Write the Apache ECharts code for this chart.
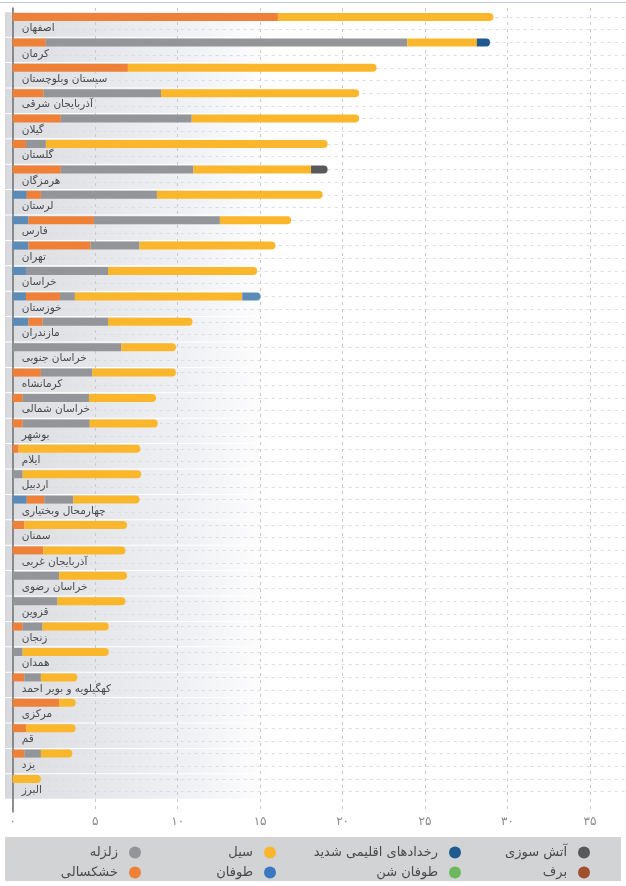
<!DOCTYPE html>
<html>
<head>
<meta charset="utf-8">
<style>
  html, body { margin: 0; padding: 0; background: #fff; }
  #main { width: 626px; height: 886px; }
</style>
<script src="https://cdn.jsdelivr.net/npm/echarts@6/dist/echarts.min.js"></script>
</head>
<body>
<div id="main"></div>
<script>
const categories = ['اصفهان', 'کرمان', 'سیستان وبلوچستان', 'آذربایجان شرقی', 'گیلان', 'گلستان', 'هرمزگان', 'لرستان', 'فارس', 'تهران', 'خراسان', 'خوزستان', 'مازندران', 'خراسان جنوبی', 'کرمانشاه', 'خراسان شمالی', 'بوشهر', 'ایلام', 'اردبیل', 'چهارمحال وبختیاری', 'سمنان', 'آذربایجان غربی', 'خراسان رضوی', 'قزوین', 'زنجان', 'همدان', 'کهگیلویه و بویر احمد', 'مرکزی', 'قم', 'یزد', 'البرز'];
const storm =   [0, 0, 0, 0, 0, 0, 0, 0.85, 0.95, 0.95, 0.8, 0.8, 0.95, 0, 0, 0, 0, 0, 0, 0.85, 0, 0, 0, 0, 0, 0, 0, 0, 0, 0, 0];
const drought = [16, 2, 6.95, 1.85, 2.9, 0.8, 2.9, 0.85, 3.95, 3.75, 0, 2.05, 0.85, 0, 1.7, 0.6, 0.6, 0.35, 0, 1.05, 0.7, 1.85, 0, 0, 0.6, 0, 0.7, 2.8, 0.8, 0.7, 0];
const quake =   [0, 21.8, 0, 7.1, 7.9, 1.2, 8, 7, 7.6, 2.95, 4.95, 0.9, 3.95, 6.55, 3.1, 4, 4.05, 0, 0.6, 1.75, 0, 0, 2.8, 2.7, 1.2, 0.6, 1, 0, 0, 1, 0];
const flood =   [13, 4.2, 15, 11.95, 10.1, 17, 7.1, 10, 4.3, 8.2, 9, 10.1, 5.1, 3.3, 5.05, 4.05, 4.1, 7.35, 7.15, 4, 6.2, 4.95, 4.1, 4.1, 4, 5.2, 2.2, 1, 3, 1.9, 1.7];
const fire =    [0, 0, 0, 0, 0, 0, 1, 0, 0, 0, 0, 0, 0, 0, 0, 0, 0, 0, 0, 0, 0, 0, 0, 0, 0, 0, 0, 0, 0, 0, 0];
const extreme = [0, 0.8, 0, 0, 0, 0, 0, 0, 0, 0, 0, 0, 0, 0, 0, 0, 0, 0, 0, 0, 0, 0, 0, 0, 0, 0, 0, 0, 0, 0, 0];
const stormEnd = [0, 0, 0, 0, 0, 0, 0, 0, 0, 0, 0, 1.1, 0, 0, 0, 0, 0, 0, 0, 0, 0, 0, 0, 0, 0, 0, 0, 0, 0, 0, 0];
const snow = categories.map(() => 0);
const sandstorm = categories.map(() => 0);
const tickLabels = ['۰', '۵', '۱۰', '۱۵', '۲۰', '۲۵', '۳۰', '۳۵'];

const font = '"DejaVu Sans", "Noto Sans", sans-serif';
const layers = [
  { name: 'طوفان', values: storm, color: '#5b8bb6' },
  { name: 'خشکسالی', values: drought, color: '#ee8038' },
  { name: 'زلزله', values: quake, color: '#939598' },
  { name: 'سیل', values: flood, color: '#fbb72c' },
  { name: 'آتش سوزی', values: fire, color: '#58595b' },
  { name: 'رخدادهای اقلیمی شدید', values: extreme, color: '#1f5a91' },
  { name: 'طوفان', values: stormEnd, color: '#5b8bb6' },
  { name: 'برف', values: snow, color: '#a0502a' },
  { name: 'طوفان شن', values: sandstorm, color: '#6cb85c' },
];

// last non-empty segment of a row gets the round end
function stackData(layerIndex) {
  return layers[layerIndex].values.map((v, row) => {
    const isLast = v > 0 && layers.slice(layerIndex + 1).every((l) => !l.values[row]);
    return isLast ? { value: v, itemStyle: { borderRadius: [0, 4, 4, 0] } } : v;
  });
}

const barSeries = layers.map((l, i) => ({
  name: l.name,
  type: 'bar',
  stack: 'total',
  xAxisIndex: 2,
  yAxisIndex: 2,
  barWidth: 8,
  itemStyle: { color: l.color },
  data: stackData(i),
  z: 2,
}));

function legendColumn(right, names) {
  return {
    orient: 'vertical',
    align: 'right',
    right: right,
    top: 846,
    padding: 0,
    itemWidth: 12,
    itemHeight: 12,
    itemGap: 7,
    icon: 'circle',
    selectedMode: false,
    textStyle: { fontFamily: font, fontSize: 13, color: '#4a4a4a', padding: [0, 6, 0, 0] },
    data: names,
  };
}

const chart = echarts.init(document.getElementById('main'), null, { renderer: 'canvas' });
chart.setOption({
  animation: false,
  backgroundColor: '#fff',
  grid: [
    { left: 5, top: 11.8, width: 270, height: 787.4 },
    { left: 12.7, top: 8, right: 0, height: 804 },
    { left: 12.7, top: 4.3, right: 0, height: 787.4 },
  ],
  xAxis: [
    { gridIndex: 0, type: 'value', min: 0, max: 1, show: false },
    {
      gridIndex: 1,
      type: 'value',
      min: 0,
      max: 37,
      interval: 5,
      axisLine: { show: false },
      axisTick: { show: false },
      axisLabel: {
        margin: 4,
        fontFamily: font,
        fontSize: 12,
        color: '#8a8a8a',
        formatter: (v) => tickLabels[v / 5] || '',
      },
      splitLine: { showMaxLine: false, lineStyle: { type: [3, 4], color: '#c9c9c9', width: 1 } },
    },
    { gridIndex: 2, type: 'value', min: 0, max: 37, show: false },
  ],
  yAxis: [
    { gridIndex: 0, type: 'category', inverse: true, data: categories, show: false },
    {
      gridIndex: 1,
      type: 'value',
      min: 0,
      max: 1,
      axisLine: { show: true, lineStyle: { color: '#6d6e71', width: 1.5 } },
      axisTick: { show: false },
      axisLabel: { show: false },
      splitLine: { show: false },
    },
    {
      gridIndex: 2,
      type: 'category',
      inverse: true,
      data: categories,
      axisLine: { show: false },
      axisTick: { show: false },
      axisLabel: {
        inside: true,
        interval: 0,
        margin: 9,
        align: 'left',
        verticalAlign: 'top',
        padding: [6, 0, 0, 0],
        fontFamily: font,
        fontSize: 10.5,
        color: '#4a4a4a',
      },
    },
    {
      gridIndex: 2,
      type: 'value',
      min: 0,
      max: categories.length,
      interval: 0.5,
      axisLine: { show: false },
      axisTick: { show: false },
      axisLabel: { show: false },
      splitLine: { showMaxLine: false, lineStyle: { type: [3, 4], color: '#dcdcdc', width: 1 } },
    },
  ],
  legend: [
    legendColumn(36, ['آتش سوزی', 'برف']),
    legendColumn(165, ['رخدادهای اقلیمی شدید', 'طوفان شن']),
    legendColumn(350, ['سیل', { name: 'طوفان', itemStyle: { color: '#3c78c1' } }]),
    legendColumn(485, ['زلزله', 'خشکسالی']),
  ],
  graphic: [
    { type: 'rect', silent: true, z: -10, shape: { x: 0, y: 2, width: 626, height: 1 }, style: { fill: '#bcc8d6' } },
    { type: 'rect', silent: true, z: -10, shape: { x: 5, y: 837, width: 616, height: 44 }, style: { fill: '#d1d3d4' } },
  ],
  series: [
    {
      type: 'bar',
      xAxisIndex: 0,
      yAxisIndex: 0,
      barWidth: 24.4,
      silent: true,
      z: -1,
      itemStyle: {
        color: {
          type: 'linear', x: 0, y: 0, x2: 1, y2: 0,
          colorStops: [
            { offset: 0, color: '#d6d7da' },
            { offset: 0.03, color: '#dcdde0' },
            { offset: 0.35, color: '#e6e7ea' },
            { offset: 0.7, color: '#f1f2f5' },
            { offset: 1, color: '#ffffff' },
          ],
        },
      },
      data: categories.map(() => 1),
    },
    ...barSeries,
  ],
});
</script>
</body>
</html>
